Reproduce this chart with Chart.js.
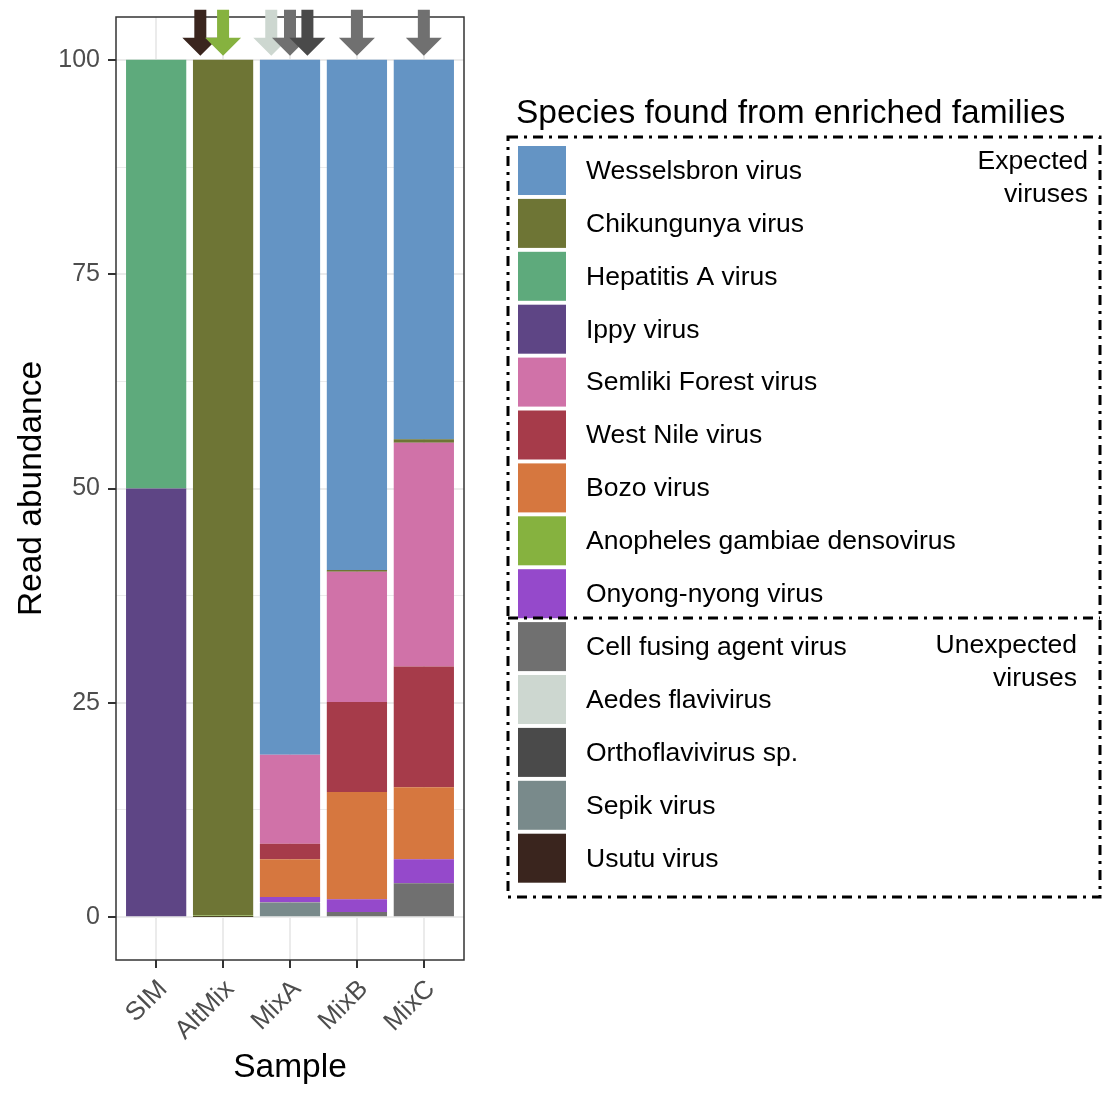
<!DOCTYPE html>
<html>
<head>
<meta charset="utf-8">
<script src="https://cdn.jsdelivr.net/npm/chart.js@4"></script>
<style>
  html, body { margin: 0; padding: 0; background: #ffffff; }
  canvas { display: block; }
</style>
</head>
<body>
<canvas id="abundance" width="1113" height="1101"></canvas>
<script>
const samples = ["SIM", "AltMix", "MixA", "MixB", "MixC"];

// legend order, top to bottom (the first one sits on top of the stack)
const viruses = [
  "Wesselsbron virus", "Chikungunya virus", "Hepatitis A virus", "Ippy virus",
  "Semliki Forest virus", "West Nile virus", "Bozo virus",
  "Anopheles gambiae densovirus", "Onyong-nyong virus",
  "Cell fusing agent virus", "Aedes flavivirus", "Orthoflavivirus sp.",
  "Sepik virus", "Usutu virus"
];
const virusColors = [
  "#6494c4", "#6e7535", "#5eaa7c", "#5e4585", "#d072a8", "#a63b4a", "#d6773f",
  "#86b23f", "#9549cb", "#707070", "#cdd7d0", "#4a4a4a", "#798a8b", "#3a251e"
];

// read abundance (%) per sample: SIM, AltMix, MixA, MixB, MixC
const wesselsbron = [0, 0, 81.05, 59.5, 44.25];
const chikungunya = [0, 99.82, 0, 0.2, 0.4];
const hepatitisA  = [50, 0, 0, 0, 0];
const ippy        = [50, 0, 0, 0, 0];
const semliki     = [0, 0, 10.4, 15.2, 26.1];
const westNile    = [0, 0, 1.8, 10.5, 14.1];
const bozo        = [0, 0, 4.4, 12.5, 8.4];
const anopheles   = [0, 0.15, 0, 0, 0];
const onyong      = [0, 0, 0.6, 1.5, 2.8];
const cellFusing  = [0, 0, 0.05, 0.6, 3.95];
const aedesFlavi  = [0, 0, 0.02, 0, 0];
const orthoflavi  = [0, 0, 0.03, 0, 0];
const sepik       = [0, 0, 1.65, 0, 0];
const usutu       = [0, 0.03, 0, 0, 0];

const abundance = [
  wesselsbron, chikungunya, hepatitisA, ippy, semliki, westNile, bozo,
  anopheles, onyong, cellFusing, aedesFlavi, orthoflavi, sepik, usutu
];

// arrows pointing at low-abundance detections
const arrowSample = [1, 1, 2, 2, 2, 3, 4];
const arrowShift  = [-0.34, 0, -0.28, 0, 0.26, 0, 0];
const arrowVirus  = [
  "Usutu virus", "Anopheles gambiae densovirus", "Aedes flavivirus",
  "Cell fusing agent virus", "Orthoflavivirus sp.",
  "Cell fusing agent virus", "Cell fusing agent virus"
];

const FONT = "'Liberation Sans', Arial, sans-serif";

// chart.js stacks the first dataset at the bottom, so reverse
const datasets = viruses.map((name, i) => ({
  label: name,
  data: abundance[i].map((v, s) => ({ x: s, y: v })),
  backgroundColor: virusColors[i],
  borderWidth: 0,
  barPercentage: 0.9,
  categoryPercentage: 1.0
})).reverse();

function drawArrow(ctx, cx, tipY, color) {
  const shaftW = 12, headW = 36, headH = 18, len = 46;
  ctx.fillStyle = color;
  ctx.beginPath();
  ctx.moveTo(cx - shaftW / 2, tipY - len);
  ctx.lineTo(cx + shaftW / 2, tipY - len);
  ctx.lineTo(cx + shaftW / 2, tipY - headH);
  ctx.lineTo(cx + headW / 2, tipY - headH);
  ctx.lineTo(cx, tipY);
  ctx.lineTo(cx - headW / 2, tipY - headH);
  ctx.lineTo(cx - shaftW / 2, tipY - headH);
  ctx.closePath();
  ctx.fill();
}

function noPadding(axis) {
  axis.paddingTop = 0;
  axis.paddingBottom = 0;
  axis.paddingLeft = 0;
  axis.paddingRight = 0;
}

const decorations = {
  id: "decorations",
  afterDatasetsDraw(chart) {
    const { ctx, chartArea: a, scales: { x, y } } = chart;
    ctx.save();
    ctx.strokeStyle = "#333333";
    ctx.lineWidth = 1.5;
    ctx.strokeRect(a.left, a.top, a.right - a.left, a.bottom - a.top);

    arrowSample.forEach((s, i) => {
      const cx = x.getPixelForValue(s + arrowShift[i]);
      const tip = y.getPixelForValue(100) - 4;
      drawArrow(ctx, cx, tip, virusColors[viruses.indexOf(arrowVirus[i])]);
    });
    ctx.restore();
  },
  afterDraw(chart) {
    const ctx = chart.ctx;
    const left = 508, right = 1100, top = 137, split = 618, bottom = 897;
    const keyX = 518, keyW = 48, keyH = 49, rowTop = 146, rowH = 52.9;
    ctx.save();

    ctx.fillStyle = "#000000";
    ctx.font = "33.5px " + FONT;
    ctx.textBaseline = "alphabetic";
    ctx.textAlign = "left";
    ctx.fillText("Species found from enriched families", 516, 123);

    ctx.font = "26.5px " + FONT;
    ctx.textBaseline = "middle";
    viruses.forEach((name, i) => {
      const yTop = rowTop + i * rowH;
      ctx.fillStyle = virusColors[i];
      ctx.fillRect(keyX, yTop, keyW, keyH);
      ctx.fillStyle = "#000000";
      ctx.fillText(name, 586, yTop + keyH / 2 + 1);
    });

    ctx.textAlign = "right";
    ctx.fillText("Expected", 1088, 162);
    ctx.fillText("viruses", 1088, 195);
    ctx.fillText("Unexpected", 1077, 646);
    ctx.fillText("viruses", 1077, 679);

    ctx.strokeStyle = "#000000";
    ctx.lineWidth = 3;
    ctx.setLineDash([10, 6, 3, 6]);
    ctx.strokeRect(left, top, right - left, bottom - top);
    ctx.beginPath();
    ctx.moveTo(left, split);
    ctx.lineTo(right, split);
    ctx.stroke();
    ctx.restore();
  }
};

new Chart(document.getElementById("abundance"), {
  type: "bar",
  data: { datasets: datasets },
  plugins: [decorations],
  options: {
    responsive: false,
    animation: false,
    layout: { padding: { left: 0, right: 649, top: 17, bottom: 0 } },
    plugins: { legend: { display: false }, tooltip: { enabled: false } },
    scales: {
      x: {
        type: "linear",
        stacked: true,
        offset: false,
        min: -0.6,
        max: 4.6,
        afterFit(axis) { axis.height = 141; noPadding(axis); },
        ticks: {
          stepSize: 1,
          includeBounds: false,
          autoSkip: false,
          minRotation: 45,
          maxRotation: 45,
          padding: 6,
          labelOffset: 7,
          color: "#4d4d4d",
          font: { family: FONT, size: 26 },
          callback: (v) => samples[v] ?? ""
        },
        grid: {
          offset: false,
          color: "#ebebeb",
          lineWidth: 2,
          tickLength: 8,
          tickWidth: 2,
          tickColor: "#333333"
        },
        border: { display: false },
        title: {
          display: true,
          text: "Sample",
          color: "#000000",
          font: { family: FONT, size: 33.5 },
          padding: { top: 0, bottom: 13 }
        }
      },
      y: {
        stacked: true,
        min: -5,
        max: 105,
        afterFit(axis) { axis.width = 116; noPadding(axis); },
        ticks: {
          stepSize: 12.5,
          includeBounds: false,
          autoSkip: false,
          padding: 8,
          color: "#4d4d4d",
          font: { family: FONT, size: 25 },
          callback: (v) => (v % 25 === 0 ? v : "")
        },
        grid: {
          color: "#ebebeb",
          lineWidth: (c) => (c.tick && c.tick.value % 25 === 0 ? 2 : 1),
          tickLength: 8,
          tickWidth: 2,
          tickColor: (c) => (c.tick && c.tick.value % 25 === 0 ? "#333333" : "rgba(0,0,0,0)")
        },
        border: { display: false },
        title: {
          display: true,
          text: "Read abundance",
          color: "#000000",
          font: { family: FONT, size: 33.5 },
          padding: { top: 12, bottom: 0 }
        }
      }
    }
  }
});
</script>
</body>
</html>
